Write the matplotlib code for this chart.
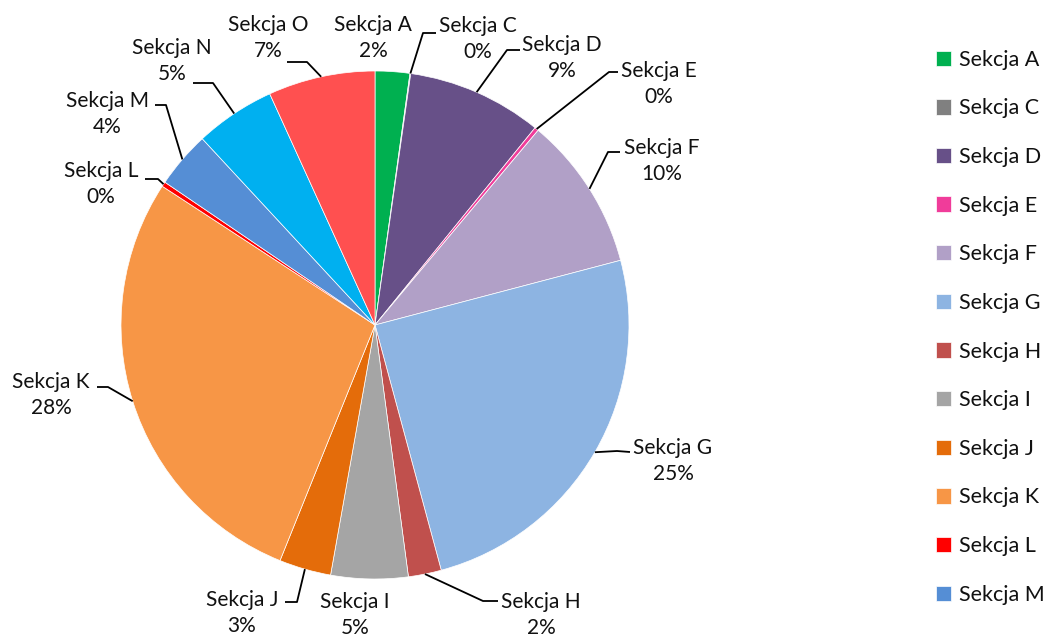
import numpy as np
import matplotlib.pyplot as plt

plt.rcParams['font.family'] = ['Lato', 'DejaVu Sans']

sekcje = ['Sekcja A', 'Sekcja C', 'Sekcja D', 'Sekcja E', 'Sekcja F', 'Sekcja G', 'Sekcja H',
          'Sekcja I', 'Sekcja J', 'Sekcja K', 'Sekcja L', 'Sekcja M', 'Sekcja N', 'Sekcja O']
udzial = [2.2, 0.05, 8.6, 0.25, 9.8, 24.9, 2.1, 4.9, 3.3, 28.1, 0.3, 3.6, 5.1, 6.8]
kolory = ['#00B050', '#808080', '#675088', '#F03C9A', '#B1A0C7', '#8DB4E2', '#C0504D',
          '#A5A5A5', '#E46C0A', '#F79646', '#FF0000', '#558ED5', '#00B0F0', '#FF5050']

# label layout in pixels (text block centre, leader elbow, leader end); None = no leader
W, H = 1054, 637
cx, cy, R = 375, 325, 254
etykiety = [
    ((373, 38), None),
    ((478, 39), ((423, 33), (436, 33))),
    ((562, 58), ((507, 50), (520, 50))),
    ((659, 84), ((609, 72), (618, 72))),
    ((662, 161), ((608, 152), (620, 152))),
    ((673, 461), ((617, 451), (630, 452))),
    ((541, 615), ((483, 601), (498, 601))),
    ((355, 615), None),
    ((242, 613), ((297, 602), (285, 602))),
    ((51, 395), ((108, 387), (97, 387))),
    ((101, 184), ((158, 179), (145, 179))),
    ((107, 114), ((166, 105), (155, 105))),
    ((172, 61), ((213, 83), (193, 83))),
    ((268, 38), ((307, 62), (287, 62))),
]


def px(x, y):
    return x, H - y


fig = plt.figure(figsize=(W / 100, H / 100), dpi=100)
ax = fig.add_axes([0, 0, 1, 1])
wedges, _ = ax.pie(udzial, colors=kolory, startangle=90, counterclock=False,
                   center=px(cx, cy), radius=R,
                   wedgeprops=dict(edgecolor='white', linewidth=0.5))
ax.set_xlim(0, W)
ax.set_ylim(0, H)
ax.set_aspect('equal')
ax.axis('off')

suma = sum(udzial)
for w, nazwa, v, (tc, leader) in zip(wedges, sekcje, udzial, etykiety):
    ax.text(*px(*tc), '%s\n%d%%' % (nazwa, round(v / suma * 100)),
            ha='center', va='center', fontsize=15, color='#111111', linespacing=1.4)
    if leader is not None:
        kat = np.deg2rad((w.theta1 + w.theta2) / 2)
        x0, y0 = w.center[0] + w.r * np.cos(kat), w.center[1] + w.r * np.sin(kat)
        (ex, ey), (sx, sy) = leader
        ax.plot([x0, px(ex, ey)[0], px(sx, sy)[0]], [y0, px(ex, ey)[1], px(sx, sy)[1]],
                color='black', lw=1.3, solid_capstyle='butt')

fig.legend(wedges[:12], sekcje[:12], loc='upper left', bbox_to_anchor=(925 / W, 1 - 39 / H),
           frameon=False, fontsize=15.5, handlelength=0.72, handleheight=0.72,
           handletextpad=0.35, labelspacing=1.33, borderpad=0, labelcolor='#111111')

fig.savefig('out.png', dpi=100)
